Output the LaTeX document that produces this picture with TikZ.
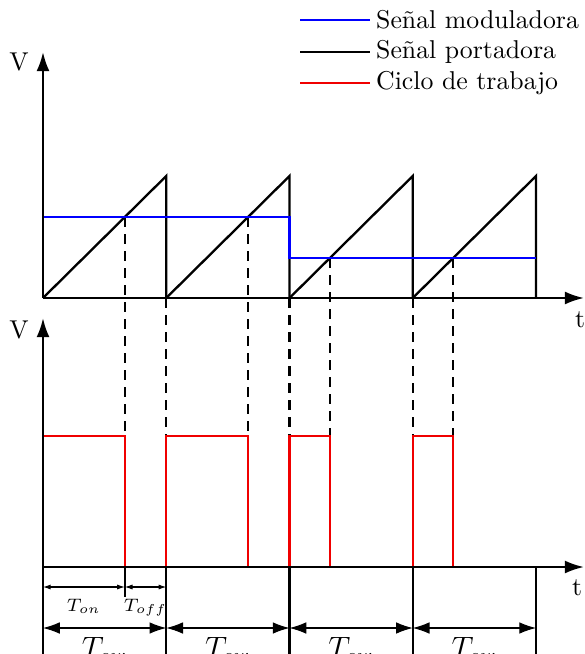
\documentclass[tikz,border=0pt]{standalone}
\usepackage{xcolor}
\definecolor{modblue}{RGB}{0,0,255}
\definecolor{dutyred}{RGB}{240,0,0}
\usepackage{tikz}
\usetikzlibrary{arrows.meta,positioning,calc}
\tikzset{
  axis/.style={line width=0.9pt,-{Latex[length=7.4pt,width=5pt]}},
  carrier/.style={black,line width=0.9pt},
  modsig/.style={modblue,thick},
  duty/.style={dutyred,thick},
  guide/.style={black,thick,dash pattern=on 4pt off 2.6pt},
  dimbig/.style={thin,{Latex[length=6.5pt,width=4.5pt]}-{Latex[length=6.5pt,width=4.5pt]}},
  dimsmall/.style={thin,{Latex[length=3pt,width=2pt]}-{Latex[length=3pt,width=2pt]}}
}

\begin{document}
\begin{tikzpicture}[x=0.388pt,y=-0.388pt]
  \useasboundingbox (0,0) rectangle (584,654);
  % origins of the two plots
  \coordinate (o1) at (43,298);
  \coordinate (o2) at (43,567);
  % guide lines between plots
  \foreach \x/\y in {124.8/217,248.1/217,329.9/258,453.2/258,166.25/298,289.5/298,412.75/298}
    \draw[guide] (\x,\y) -- (\x,567);
  % carrier (sawtooth)
  \foreach \i in {0,...,3}
    \draw[carrier] ($(o1)+(\i*123.25,0)$) -- ++(123.25,-122) -- ++(0,122);
  % modulating signal
  \draw[modsig] (43,217) -- (289.5,217) -- (289.5,258) -- (536,258);
  % duty cycle
  \draw[duty] (43,436) -- (124.8,436) -- (124.8,567) -- (166.25,567) -- (166.25,436)
    -- (248.1,436) -- (248.1,567) -- (289.5,567) -- (289.5,436) -- (329.9,436)
    -- (329.9,567) -- (412.75,567) -- (412.75,436) -- (453.2,436) -- (453.2,567) -- (536,567);
  % axes
  \draw[axis] (o1) -- (584,298);
  \draw[axis] (o1) -- (43,52);
  \draw[axis] (o2) -- (584,567);
  \draw[axis] (43,654) -- (43,318);
  \node (v1) at (19,62) {V};
  \node (v2) at (19,330) {V};
  \node (t1) at (580,320) {t};
  \node (t2) at (577,588) {t};
  % period marks
  \foreach \x in {166.25,289.5,412.75,536}
    \draw[thick] (\x,567) -- (\x,654);
  \draw[thick] (124.8,567) -- (124.8,597);
  \draw[dimsmall] (43,587) -- (124.8,587) node[midway,below=1pt,font=\scriptsize] (ton) {$T_{on}$};
  \draw[dimsmall] (124.8,587) -- (166.25,587) node[midway,below=1pt,font=\scriptsize] (toff) {$T_{off}$};
  \foreach \a/\b [count=\k] in {43/166.25,166.25/289.5,289.5/412.75,412.75/536}
    \draw[dimbig] (\a,628) -- (\b,628) node[midway,below=0pt,font=\large] (tsw\k) {$T_{sw}$};
  % legend
  \draw[modsig] (300,20) -- (370,20) node[anchor=west,inner sep=0pt,xshift=2pt,black] (lg1) {Señal moduladora};
  \draw[carrier,thick] (300,52) -- (370,52) node[anchor=west,inner sep=0pt,xshift=2pt] (lg2) {Señal portadora};
  \draw[duty] (300,83) -- (370,83) node[anchor=west,inner sep=0pt,xshift=2pt,black] (lg3) {Ciclo de trabajo};
\end{tikzpicture}
\end{document}
